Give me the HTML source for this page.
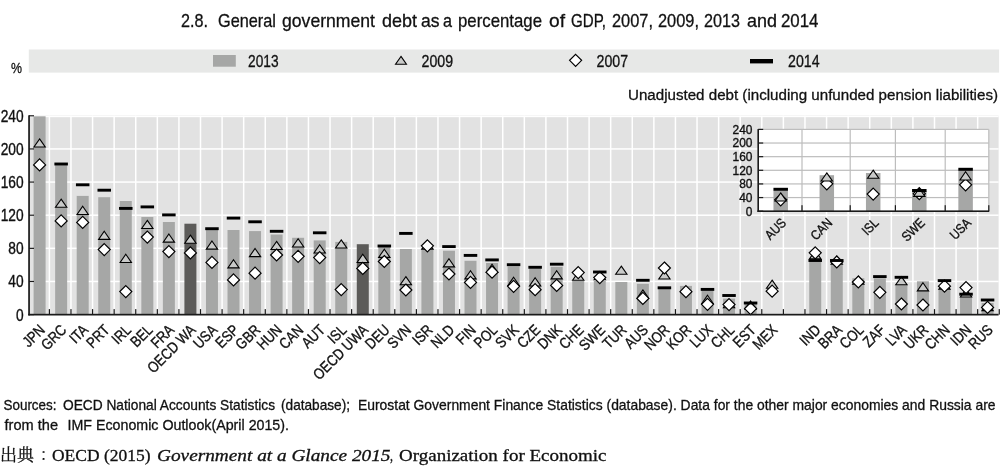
<!DOCTYPE html><html><head><meta charset="utf-8"><title>General government debt</title><style>html,body{margin:0;padding:0;background:#fff;width:1000px;height:467px;overflow:hidden}svg{display:block}text{font-family:'Liberation Sans', Arial, sans-serif;fill:#111;white-space:pre}</style></head><body>
<svg width="1000" height="467" viewBox="0 0 1000 467">
<text x="181.0" y="26.8" font-size="19" style="font-family:'Liberation Sans', sans-serif;" stroke="#111" stroke-width="0.3" textLength="27.0" lengthAdjust="spacingAndGlyphs">2.8.</text>
<text x="218.0" y="26.8" font-size="19" style="font-family:'Liberation Sans', sans-serif;" stroke="#111" stroke-width="0.3" textLength="58.0" lengthAdjust="spacingAndGlyphs">General</text>
<text x="282.0" y="26.8" font-size="19" style="font-family:'Liberation Sans', sans-serif;" stroke="#111" stroke-width="0.3" textLength="93.0" lengthAdjust="spacingAndGlyphs">government</text>
<text x="382.0" y="26.8" font-size="19" style="font-family:'Liberation Sans', sans-serif;" stroke="#111" stroke-width="0.3" textLength="35.0" lengthAdjust="spacingAndGlyphs">debt</text>
<text x="421.0" y="26.8" font-size="19" style="font-family:'Liberation Sans', sans-serif;" stroke="#111" stroke-width="0.3" textLength="18.5" lengthAdjust="spacingAndGlyphs">as</text>
<text x="443.0" y="26.8" font-size="19" style="font-family:'Liberation Sans', sans-serif;" stroke="#111" stroke-width="0.3" textLength="9.0" lengthAdjust="spacingAndGlyphs">a</text>
<text x="458.0" y="26.8" font-size="19" style="font-family:'Liberation Sans', sans-serif;" stroke="#111" stroke-width="0.3" textLength="84.0" lengthAdjust="spacingAndGlyphs">percentage</text>
<text x="549.0" y="26.8" font-size="19" style="font-family:'Liberation Sans', sans-serif;" stroke="#111" stroke-width="0.3" textLength="16.0" lengthAdjust="spacingAndGlyphs">of</text>
<text x="571.0" y="26.8" font-size="19" style="font-family:'Liberation Sans', sans-serif;" stroke="#111" stroke-width="0.3" textLength="35.0" lengthAdjust="spacingAndGlyphs">GDP,</text>
<text x="612.0" y="26.8" font-size="19" style="font-family:'Liberation Sans', sans-serif;" stroke="#111" stroke-width="0.3" textLength="41.0" lengthAdjust="spacingAndGlyphs">2007,</text>
<text x="658.0" y="26.8" font-size="19" style="font-family:'Liberation Sans', sans-serif;" stroke="#111" stroke-width="0.3" textLength="41.0" lengthAdjust="spacingAndGlyphs">2009,</text>
<text x="704.0" y="26.8" font-size="19" style="font-family:'Liberation Sans', sans-serif;" stroke="#111" stroke-width="0.3" textLength="36.0" lengthAdjust="spacingAndGlyphs">2013</text>
<text x="747.0" y="26.8" font-size="19" style="font-family:'Liberation Sans', sans-serif;" stroke="#111" stroke-width="0.3" textLength="30.0" lengthAdjust="spacingAndGlyphs">and</text>
<text x="781.0" y="26.8" font-size="19" style="font-family:'Liberation Sans', sans-serif;" stroke="#111" stroke-width="0.3" textLength="37.5" lengthAdjust="spacingAndGlyphs">2014</text>
<rect x="28.8" y="49.5" width="970.3" height="23.1" fill="#e7e8e7"/>
<text x="11.0" y="73.4" font-size="15.5" style="font-family:'Liberation Sans', sans-serif;" stroke="#111" stroke-width="0.3" textLength="11.0" lengthAdjust="spacingAndGlyphs">%</text>
<rect x="213" y="55" width="22.8" height="11.7" fill="#a6a7a6"/>
<text x="248.0" y="66.5" font-size="16" style="font-family:'Liberation Sans', sans-serif;" stroke="#111" stroke-width="0.3" textLength="30.5" lengthAdjust="spacingAndGlyphs">2013</text>
<path d="M401.00,56.40 L406.45,64.25 L395.55,64.25 Z" fill="#c9cac9" stroke="#000" stroke-width="1.1" stroke-linejoin="miter"/>
<text x="421.5" y="66.5" font-size="16" style="font-family:'Liberation Sans', sans-serif;" stroke="#111" stroke-width="0.3" textLength="31.5" lengthAdjust="spacingAndGlyphs">2009</text>
<path d="M575.60,54.30 L581.60,60.30 L575.60,66.30 L569.60,60.30 Z" fill="#fff" stroke="#000" stroke-width="1.2"/>
<text x="596.5" y="66.5" font-size="16" style="font-family:'Liberation Sans', sans-serif;" stroke="#111" stroke-width="0.3" textLength="31.5" lengthAdjust="spacingAndGlyphs">2007</text>
<rect x="750" y="59" width="23" height="4.4" fill="#000"/>
<text x="788.0" y="66.5" font-size="16" style="font-family:'Liberation Sans', sans-serif;" stroke="#111" stroke-width="0.3" textLength="31.5" lengthAdjust="spacingAndGlyphs">2014</text>
<text x="628.0" y="99.6" font-size="15.2" style="font-family:'Liberation Sans', sans-serif;" stroke="#111" stroke-width="0.3" textLength="370.0" lengthAdjust="spacingAndGlyphs">Unadjusted debt (including unfunded pension liabilities)</text>
<rect x="29.0" y="115.7" width="969.60" height="198.90" fill="#e2e2e2"/>
<rect x="29.0" y="280.72" width="969.60" height="1.5" fill="#fff"/>
<rect x="29.0" y="247.59" width="969.60" height="1.5" fill="#fff"/>
<rect x="29.0" y="214.45" width="969.60" height="1.5" fill="#fff"/>
<rect x="29.0" y="181.32" width="969.60" height="1.5" fill="#fff"/>
<rect x="29.0" y="148.19" width="969.60" height="1.5" fill="#fff"/>
<rect x="29.0" y="116.0" width="969.60" height="1.2" fill="#fff"/>
<rect x="48.64" y="115.7" width="1.5" height="198.90" fill="#fff"/>
<rect x="70.23" y="115.7" width="1.5" height="198.90" fill="#fff"/>
<rect x="91.81" y="115.7" width="1.5" height="198.90" fill="#fff"/>
<rect x="113.40" y="115.7" width="1.5" height="198.90" fill="#fff"/>
<rect x="134.99" y="115.7" width="1.5" height="198.90" fill="#fff"/>
<rect x="156.58" y="115.7" width="1.5" height="198.90" fill="#fff"/>
<rect x="178.17" y="115.7" width="1.5" height="198.90" fill="#fff"/>
<rect x="199.75" y="115.7" width="1.5" height="198.90" fill="#fff"/>
<rect x="221.34" y="115.7" width="1.5" height="198.90" fill="#fff"/>
<rect x="242.93" y="115.7" width="1.5" height="198.90" fill="#fff"/>
<rect x="264.52" y="115.7" width="1.5" height="198.90" fill="#fff"/>
<rect x="286.11" y="115.7" width="1.5" height="198.90" fill="#fff"/>
<rect x="307.69" y="115.7" width="1.5" height="198.90" fill="#fff"/>
<rect x="329.28" y="115.7" width="1.5" height="198.90" fill="#fff"/>
<rect x="350.87" y="115.7" width="1.5" height="198.90" fill="#fff"/>
<rect x="372.46" y="115.7" width="1.5" height="198.90" fill="#fff"/>
<rect x="394.05" y="115.7" width="1.5" height="198.90" fill="#fff"/>
<rect x="415.63" y="115.7" width="1.5" height="198.90" fill="#fff"/>
<rect x="437.22" y="115.7" width="1.5" height="198.90" fill="#fff"/>
<rect x="458.81" y="115.7" width="1.5" height="198.90" fill="#fff"/>
<rect x="480.40" y="115.7" width="1.5" height="198.90" fill="#fff"/>
<rect x="501.99" y="115.7" width="1.5" height="198.90" fill="#fff"/>
<rect x="523.57" y="115.7" width="1.5" height="198.90" fill="#fff"/>
<rect x="545.16" y="115.7" width="1.5" height="198.90" fill="#fff"/>
<rect x="566.75" y="115.7" width="1.5" height="198.90" fill="#fff"/>
<rect x="588.34" y="115.7" width="1.5" height="198.90" fill="#fff"/>
<rect x="609.93" y="115.7" width="1.5" height="198.90" fill="#fff"/>
<rect x="631.51" y="115.7" width="1.5" height="198.90" fill="#fff"/>
<rect x="653.10" y="115.7" width="1.5" height="198.90" fill="#fff"/>
<rect x="674.69" y="115.7" width="1.5" height="198.90" fill="#fff"/>
<rect x="696.28" y="115.7" width="1.5" height="198.90" fill="#fff"/>
<rect x="717.87" y="115.7" width="1.5" height="198.90" fill="#fff"/>
<rect x="739.45" y="115.7" width="1.5" height="198.90" fill="#fff"/>
<rect x="761.04" y="115.7" width="1.5" height="198.90" fill="#fff"/>
<rect x="782.63" y="115.7" width="1.5" height="198.90" fill="#fff"/>
<rect x="804.22" y="115.7" width="1.5" height="198.90" fill="#fff"/>
<rect x="825.81" y="115.7" width="1.5" height="198.90" fill="#fff"/>
<rect x="847.39" y="115.7" width="1.5" height="198.90" fill="#fff"/>
<rect x="868.98" y="115.7" width="1.5" height="198.90" fill="#fff"/>
<rect x="890.57" y="115.7" width="1.5" height="198.90" fill="#fff"/>
<rect x="912.16" y="115.7" width="1.5" height="198.90" fill="#fff"/>
<rect x="933.75" y="115.7" width="1.5" height="198.90" fill="#fff"/>
<rect x="955.33" y="115.7" width="1.5" height="198.90" fill="#fff"/>
<rect x="976.92" y="115.7" width="1.5" height="198.90" fill="#fff"/>
<rect x="33.60" y="116.30" width="12.0" height="198.30" fill="#a6a7a6"/>
<rect x="55.15" y="165.10" width="12.0" height="149.50" fill="#a6a7a6"/>
<rect x="76.69" y="195.90" width="12.0" height="118.70" fill="#a6a7a6"/>
<rect x="98.24" y="197.20" width="12.0" height="117.40" fill="#a6a7a6"/>
<rect x="119.78" y="201.00" width="12.0" height="113.60" fill="#a6a7a6"/>
<rect x="141.33" y="217.00" width="12.0" height="97.60" fill="#a6a7a6"/>
<rect x="162.87" y="222.00" width="12.0" height="92.60" fill="#a6a7a6"/>
<rect x="184.41" y="223.70" width="12.0" height="90.90" fill="#5c5b59"/>
<rect x="205.96" y="229.60" width="12.0" height="85.00" fill="#a6a7a6"/>
<rect x="227.51" y="230.00" width="12.0" height="84.60" fill="#a6a7a6"/>
<rect x="249.05" y="231.10" width="12.0" height="83.50" fill="#a6a7a6"/>
<rect x="270.60" y="234.50" width="12.0" height="80.10" fill="#a6a7a6"/>
<rect x="292.14" y="237.80" width="12.0" height="76.80" fill="#a6a7a6"/>
<rect x="313.69" y="240.40" width="12.0" height="74.20" fill="#a6a7a6"/>
<rect x="335.23" y="241.90" width="12.0" height="72.70" fill="#a6a7a6"/>
<rect x="356.78" y="244.20" width="12.0" height="70.40" fill="#5c5b59"/>
<rect x="378.32" y="246.80" width="12.0" height="67.80" fill="#a6a7a6"/>
<rect x="399.87" y="249.00" width="12.0" height="65.60" fill="#a6a7a6"/>
<rect x="421.41" y="247.90" width="12.0" height="66.70" fill="#a6a7a6"/>
<rect x="442.96" y="250.70" width="12.0" height="63.90" fill="#a6a7a6"/>
<rect x="464.50" y="260.80" width="12.0" height="53.80" fill="#a6a7a6"/>
<rect x="486.05" y="263.00" width="12.0" height="51.60" fill="#a6a7a6"/>
<rect x="507.59" y="266.40" width="12.0" height="48.20" fill="#a6a7a6"/>
<rect x="529.13" y="268.60" width="12.0" height="46.00" fill="#a6a7a6"/>
<rect x="550.68" y="266.80" width="12.0" height="47.80" fill="#a6a7a6"/>
<rect x="572.23" y="281.00" width="12.0" height="33.60" fill="#a6a7a6"/>
<rect x="593.77" y="281.00" width="12.0" height="33.60" fill="#a6a7a6"/>
<rect x="615.32" y="282.00" width="12.0" height="32.60" fill="#a6a7a6"/>
<rect x="636.86" y="283.80" width="12.0" height="30.80" fill="#a6a7a6"/>
<rect x="658.41" y="288.60" width="12.0" height="26.00" fill="#a6a7a6"/>
<rect x="679.95" y="285.90" width="12.0" height="28.70" fill="#a6a7a6"/>
<rect x="701.50" y="290.60" width="12.0" height="24.00" fill="#a6a7a6"/>
<rect x="723.04" y="298.60" width="12.0" height="16.00" fill="#a6a7a6"/>
<rect x="744.59" y="303.60" width="12.0" height="11.00" fill="#a6a7a6"/>
<rect x="809.22" y="261.40" width="12.0" height="53.20" fill="#a6a7a6"/>
<rect x="830.77" y="264.70" width="12.0" height="49.90" fill="#a6a7a6"/>
<rect x="852.31" y="278.20" width="12.0" height="36.40" fill="#a6a7a6"/>
<rect x="873.86" y="278.40" width="12.0" height="36.20" fill="#a6a7a6"/>
<rect x="895.40" y="284.00" width="12.0" height="30.60" fill="#a6a7a6"/>
<rect x="916.95" y="281.30" width="12.0" height="33.30" fill="#a6a7a6"/>
<rect x="938.49" y="289.00" width="12.0" height="25.60" fill="#a6a7a6"/>
<rect x="960.04" y="296.50" width="12.0" height="18.10" fill="#a6a7a6"/>
<rect x="981.58" y="303.00" width="12.0" height="11.60" fill="#a6a7a6"/>
<path d="M39.60,138.90 L45.25,147.05 L33.95,147.05 Z" fill="#c9cac9" stroke="#000" stroke-width="1.1" stroke-linejoin="miter"/>
<path d="M61.15,199.10 L66.80,207.25 L55.50,207.25 Z" fill="#c9cac9" stroke="#000" stroke-width="1.1" stroke-linejoin="miter"/>
<path d="M82.69,206.30 L88.34,214.45 L77.04,214.45 Z" fill="#c9cac9" stroke="#000" stroke-width="1.1" stroke-linejoin="miter"/>
<path d="M104.24,231.20 L109.89,239.35 L98.59,239.35 Z" fill="#c9cac9" stroke="#000" stroke-width="1.1" stroke-linejoin="miter"/>
<path d="M125.78,254.30 L131.43,262.45 L120.13,262.45 Z" fill="#c9cac9" stroke="#000" stroke-width="1.1" stroke-linejoin="miter"/>
<path d="M147.33,220.40 L152.98,228.55 L141.68,228.55 Z" fill="#c9cac9" stroke="#000" stroke-width="1.1" stroke-linejoin="miter"/>
<path d="M168.87,234.00 L174.52,242.15 L163.22,242.15 Z" fill="#c9cac9" stroke="#000" stroke-width="1.1" stroke-linejoin="miter"/>
<path d="M190.41,235.10 L196.06,243.25 L184.76,243.25 Z" fill="#c9cac9" stroke="#000" stroke-width="1.1" stroke-linejoin="miter"/>
<path d="M211.96,241.00 L217.61,249.15 L206.31,249.15 Z" fill="#c9cac9" stroke="#000" stroke-width="1.1" stroke-linejoin="miter"/>
<path d="M233.51,259.70 L239.16,267.85 L227.86,267.85 Z" fill="#c9cac9" stroke="#000" stroke-width="1.1" stroke-linejoin="miter"/>
<path d="M255.05,248.50 L260.70,256.65 L249.40,256.65 Z" fill="#c9cac9" stroke="#000" stroke-width="1.1" stroke-linejoin="miter"/>
<path d="M276.60,241.40 L282.25,249.55 L270.95,249.55 Z" fill="#c9cac9" stroke="#000" stroke-width="1.1" stroke-linejoin="miter"/>
<path d="M298.14,238.80 L303.79,246.95 L292.49,246.95 Z" fill="#c9cac9" stroke="#000" stroke-width="1.1" stroke-linejoin="miter"/>
<path d="M319.69,244.80 L325.34,252.95 L314.04,252.95 Z" fill="#c9cac9" stroke="#000" stroke-width="1.1" stroke-linejoin="miter"/>
<path d="M341.23,239.90 L346.88,248.05 L335.58,248.05 Z" fill="#c9cac9" stroke="#000" stroke-width="1.1" stroke-linejoin="miter"/>
<path d="M362.78,254.30 L368.43,262.45 L357.13,262.45 Z" fill="#c9cac9" stroke="#000" stroke-width="1.1" stroke-linejoin="miter"/>
<path d="M384.32,249.20 L389.97,257.35 L378.67,257.35 Z" fill="#c9cac9" stroke="#000" stroke-width="1.1" stroke-linejoin="miter"/>
<path d="M405.87,276.60 L411.52,284.75 L400.22,284.75 Z" fill="#c9cac9" stroke="#000" stroke-width="1.1" stroke-linejoin="miter"/>
<path d="M427.41,241.00 L433.06,249.15 L421.76,249.15 Z" fill="#c9cac9" stroke="#000" stroke-width="1.1" stroke-linejoin="miter"/>
<path d="M448.96,258.70 L454.61,266.85 L443.31,266.85 Z" fill="#c9cac9" stroke="#000" stroke-width="1.1" stroke-linejoin="miter"/>
<path d="M470.50,270.70 L476.15,278.85 L464.85,278.85 Z" fill="#c9cac9" stroke="#000" stroke-width="1.1" stroke-linejoin="miter"/>
<path d="M492.05,264.20 L497.70,272.35 L486.40,272.35 Z" fill="#c9cac9" stroke="#000" stroke-width="1.1" stroke-linejoin="miter"/>
<path d="M513.59,277.20 L519.24,285.35 L507.94,285.35 Z" fill="#c9cac9" stroke="#000" stroke-width="1.1" stroke-linejoin="miter"/>
<path d="M535.13,277.80 L540.78,285.95 L529.49,285.95 Z" fill="#c9cac9" stroke="#000" stroke-width="1.1" stroke-linejoin="miter"/>
<path d="M556.68,270.70 L562.33,278.85 L551.03,278.85 Z" fill="#c9cac9" stroke="#000" stroke-width="1.1" stroke-linejoin="miter"/>
<path d="M578.23,272.10 L583.88,280.25 L572.58,280.25 Z" fill="#c9cac9" stroke="#000" stroke-width="1.1" stroke-linejoin="miter"/>
<path d="M599.77,271.60 L605.42,279.75 L594.12,279.75 Z" fill="#c9cac9" stroke="#000" stroke-width="1.1" stroke-linejoin="miter"/>
<path d="M621.32,266.10 L626.97,274.25 L615.67,274.25 Z" fill="#c9cac9" stroke="#000" stroke-width="1.1" stroke-linejoin="miter"/>
<path d="M642.86,289.90 L648.51,298.05 L637.21,298.05 Z" fill="#c9cac9" stroke="#000" stroke-width="1.1" stroke-linejoin="miter"/>
<path d="M664.41,270.90 L670.06,279.05 L658.76,279.05 Z" fill="#c9cac9" stroke="#000" stroke-width="1.1" stroke-linejoin="miter"/>
<path d="M707.50,295.30 L713.15,303.45 L701.85,303.45 Z" fill="#c9cac9" stroke="#000" stroke-width="1.1" stroke-linejoin="miter"/>
<path d="M729.04,299.60 L734.69,307.75 L723.39,307.75 Z" fill="#c9cac9" stroke="#000" stroke-width="1.1" stroke-linejoin="miter"/>
<path d="M750.59,301.00 L756.24,309.15 L744.94,309.15 Z" fill="#c9cac9" stroke="#000" stroke-width="1.1" stroke-linejoin="miter"/>
<path d="M772.13,280.10 L777.78,288.25 L766.48,288.25 Z" fill="#c9cac9" stroke="#000" stroke-width="1.1" stroke-linejoin="miter"/>
<path d="M815.22,250.60 L820.87,258.75 L809.57,258.75 Z" fill="#c9cac9" stroke="#000" stroke-width="1.1" stroke-linejoin="miter"/>
<path d="M836.77,256.00 L842.42,264.15 L831.12,264.15 Z" fill="#c9cac9" stroke="#000" stroke-width="1.1" stroke-linejoin="miter"/>
<path d="M858.31,276.10 L863.96,284.25 L852.66,284.25 Z" fill="#c9cac9" stroke="#000" stroke-width="1.1" stroke-linejoin="miter"/>
<path d="M901.40,276.60 L907.05,284.75 L895.75,284.75 Z" fill="#c9cac9" stroke="#000" stroke-width="1.1" stroke-linejoin="miter"/>
<path d="M922.95,282.70 L928.60,290.85 L917.30,290.85 Z" fill="#c9cac9" stroke="#000" stroke-width="1.1" stroke-linejoin="miter"/>
<path d="M944.49,281.10 L950.14,289.25 L938.84,289.25 Z" fill="#c9cac9" stroke="#000" stroke-width="1.1" stroke-linejoin="miter"/>
<path d="M966.04,288.90 L971.69,297.05 L960.39,297.05 Z" fill="#c9cac9" stroke="#000" stroke-width="1.1" stroke-linejoin="miter"/>
<path d="M987.58,302.50 L993.23,310.65 L981.93,310.65 Z" fill="#c9cac9" stroke="#000" stroke-width="1.1" stroke-linejoin="miter"/>
<path d="M39.60,158.90 L45.60,164.90 L39.60,170.90 L33.60,164.90 Z" fill="#fff" stroke="#000" stroke-width="1.2"/>
<path d="M61.15,214.90 L67.15,220.90 L61.15,226.90 L55.15,220.90 Z" fill="#fff" stroke="#000" stroke-width="1.2"/>
<path d="M82.69,216.40 L88.69,222.40 L82.69,228.40 L76.69,222.40 Z" fill="#fff" stroke="#000" stroke-width="1.2"/>
<path d="M104.24,243.60 L110.24,249.60 L104.24,255.60 L98.24,249.60 Z" fill="#fff" stroke="#000" stroke-width="1.2"/>
<path d="M125.78,285.60 L131.78,291.60 L125.78,297.60 L119.78,291.60 Z" fill="#fff" stroke="#000" stroke-width="1.2"/>
<path d="M147.33,231.10 L153.33,237.10 L147.33,243.10 L141.33,237.10 Z" fill="#fff" stroke="#000" stroke-width="1.2"/>
<path d="M168.87,245.60 L174.87,251.60 L168.87,257.60 L162.87,251.60 Z" fill="#fff" stroke="#000" stroke-width="1.2"/>
<path d="M190.41,246.90 L196.41,252.90 L190.41,258.90 L184.41,252.90 Z" fill="#fff" stroke="#000" stroke-width="1.2"/>
<path d="M211.96,256.40 L217.96,262.40 L211.96,268.40 L205.96,262.40 Z" fill="#fff" stroke="#000" stroke-width="1.2"/>
<path d="M233.51,273.90 L239.51,279.90 L233.51,285.90 L227.51,279.90 Z" fill="#fff" stroke="#000" stroke-width="1.2"/>
<path d="M255.05,267.20 L261.05,273.20 L255.05,279.20 L249.05,273.20 Z" fill="#fff" stroke="#000" stroke-width="1.2"/>
<path d="M276.60,249.00 L282.60,255.00 L276.60,261.00 L270.60,255.00 Z" fill="#fff" stroke="#000" stroke-width="1.2"/>
<path d="M298.14,250.30 L304.14,256.30 L298.14,262.30 L292.14,256.30 Z" fill="#fff" stroke="#000" stroke-width="1.2"/>
<path d="M319.69,251.60 L325.69,257.60 L319.69,263.60 L313.69,257.60 Z" fill="#fff" stroke="#000" stroke-width="1.2"/>
<path d="M341.23,283.60 L347.23,289.60 L341.23,295.60 L335.23,289.60 Z" fill="#fff" stroke="#000" stroke-width="1.2"/>
<path d="M362.78,262.40 L368.78,268.40 L362.78,274.40 L356.78,268.40 Z" fill="#fff" stroke="#000" stroke-width="1.2"/>
<path d="M384.32,255.50 L390.32,261.50 L384.32,267.50 L378.32,261.50 Z" fill="#fff" stroke="#000" stroke-width="1.2"/>
<path d="M405.87,284.00 L411.87,290.00 L405.87,296.00 L399.87,290.00 Z" fill="#fff" stroke="#000" stroke-width="1.2"/>
<path d="M427.41,239.80 L433.41,245.80 L427.41,251.80 L421.41,245.80 Z" fill="#fff" stroke="#000" stroke-width="1.2"/>
<path d="M448.96,268.00 L454.96,274.00 L448.96,280.00 L442.96,274.00 Z" fill="#fff" stroke="#000" stroke-width="1.2"/>
<path d="M470.50,276.40 L476.50,282.40 L470.50,288.40 L464.50,282.40 Z" fill="#fff" stroke="#000" stroke-width="1.2"/>
<path d="M492.05,266.20 L498.05,272.20 L492.05,278.20 L486.05,272.20 Z" fill="#fff" stroke="#000" stroke-width="1.2"/>
<path d="M513.59,280.30 L519.59,286.30 L513.59,292.30 L507.59,286.30 Z" fill="#fff" stroke="#000" stroke-width="1.2"/>
<path d="M535.13,283.70 L541.13,289.70 L535.13,295.70 L529.13,289.70 Z" fill="#fff" stroke="#000" stroke-width="1.2"/>
<path d="M556.68,279.40 L562.68,285.40 L556.68,291.40 L550.68,285.40 Z" fill="#fff" stroke="#000" stroke-width="1.2"/>
<path d="M578.23,266.60 L584.23,272.60 L578.23,278.60 L572.23,272.60 Z" fill="#fff" stroke="#000" stroke-width="1.2"/>
<path d="M599.77,271.60 L605.77,277.60 L599.77,283.60 L593.77,277.60 Z" fill="#fff" stroke="#000" stroke-width="1.2"/>
<path d="M642.86,292.40 L648.86,298.40 L642.86,304.40 L636.86,298.40 Z" fill="#fff" stroke="#000" stroke-width="1.2"/>
<path d="M664.41,262.00 L670.41,268.00 L664.41,274.00 L658.41,268.00 Z" fill="#fff" stroke="#000" stroke-width="1.2"/>
<path d="M685.95,285.70 L691.95,291.70 L685.95,297.70 L679.95,291.70 Z" fill="#fff" stroke="#000" stroke-width="1.2"/>
<path d="M707.50,298.30 L713.50,304.30 L707.50,310.30 L701.50,304.30 Z" fill="#fff" stroke="#000" stroke-width="1.2"/>
<path d="M729.04,298.60 L735.04,304.60 L729.04,310.60 L723.04,304.60 Z" fill="#fff" stroke="#000" stroke-width="1.2"/>
<path d="M750.59,302.60 L756.59,308.60 L750.59,314.60 L744.59,308.60 Z" fill="#fff" stroke="#000" stroke-width="1.2"/>
<path d="M772.13,285.20 L778.13,291.20 L772.13,297.20 L766.13,291.20 Z" fill="#fff" stroke="#000" stroke-width="1.2"/>
<path d="M815.22,246.80 L821.22,252.80 L815.22,258.80 L809.22,252.80 Z" fill="#fff" stroke="#000" stroke-width="1.2"/>
<path d="M836.77,256.00 L842.77,262.00 L836.77,268.00 L830.77,262.00 Z" fill="#fff" stroke="#000" stroke-width="1.2"/>
<path d="M858.31,276.00 L864.31,282.00 L858.31,288.00 L852.31,282.00 Z" fill="#fff" stroke="#000" stroke-width="1.2"/>
<path d="M879.86,286.30 L885.86,292.30 L879.86,298.30 L873.86,292.30 Z" fill="#fff" stroke="#000" stroke-width="1.2"/>
<path d="M901.40,298.00 L907.40,304.00 L901.40,310.00 L895.40,304.00 Z" fill="#fff" stroke="#000" stroke-width="1.2"/>
<path d="M922.95,299.00 L928.95,305.00 L922.95,311.00 L916.95,305.00 Z" fill="#fff" stroke="#000" stroke-width="1.2"/>
<path d="M944.49,280.20 L950.49,286.20 L944.49,292.20 L938.49,286.20 Z" fill="#fff" stroke="#000" stroke-width="1.2"/>
<path d="M966.04,281.60 L972.04,287.60 L966.04,293.60 L960.04,287.60 Z" fill="#fff" stroke="#000" stroke-width="1.2"/>
<path d="M987.58,301.40 L993.58,307.40 L987.58,313.40 L981.58,307.40 Z" fill="#fff" stroke="#000" stroke-width="1.2"/>
<rect x="54.40" y="162.55" width="13.50" height="2.90" fill="#000"/>
<rect x="75.94" y="183.35" width="13.50" height="2.90" fill="#000"/>
<rect x="97.49" y="188.75" width="13.50" height="2.90" fill="#000"/>
<rect x="119.03" y="206.95" width="13.50" height="2.90" fill="#000"/>
<rect x="140.58" y="205.45" width="13.50" height="2.90" fill="#000"/>
<rect x="162.12" y="213.45" width="13.50" height="2.90" fill="#000"/>
<rect x="205.21" y="227.25" width="13.50" height="2.90" fill="#000"/>
<rect x="226.76" y="216.65" width="13.50" height="2.90" fill="#000"/>
<rect x="248.30" y="220.35" width="13.50" height="2.90" fill="#000"/>
<rect x="269.85" y="229.85" width="13.50" height="2.90" fill="#000"/>
<rect x="312.94" y="231.35" width="13.50" height="2.90" fill="#000"/>
<rect x="377.57" y="244.55" width="13.50" height="2.90" fill="#000"/>
<rect x="399.12" y="231.95" width="13.50" height="2.90" fill="#000"/>
<rect x="442.21" y="245.15" width="13.50" height="2.90" fill="#000"/>
<rect x="463.75" y="253.95" width="13.50" height="2.90" fill="#000"/>
<rect x="485.30" y="258.45" width="13.50" height="2.90" fill="#000"/>
<rect x="506.84" y="263.25" width="13.50" height="2.90" fill="#000"/>
<rect x="528.38" y="265.85" width="13.50" height="2.90" fill="#000"/>
<rect x="549.93" y="262.75" width="13.50" height="2.90" fill="#000"/>
<rect x="593.02" y="270.55" width="13.50" height="2.90" fill="#000"/>
<rect x="636.11" y="278.85" width="13.50" height="2.90" fill="#000"/>
<rect x="657.66" y="286.35" width="13.50" height="2.90" fill="#000"/>
<rect x="700.75" y="287.95" width="13.50" height="2.90" fill="#000"/>
<rect x="722.29" y="294.05" width="13.50" height="2.90" fill="#000"/>
<rect x="743.84" y="301.55" width="13.50" height="2.90" fill="#000"/>
<rect x="808.47" y="259.05" width="13.50" height="2.90" fill="#000"/>
<rect x="830.02" y="259.05" width="13.50" height="2.90" fill="#000"/>
<rect x="873.11" y="275.15" width="13.50" height="2.90" fill="#000"/>
<rect x="894.65" y="275.85" width="13.50" height="2.90" fill="#000"/>
<rect x="937.74" y="279.15" width="13.50" height="2.90" fill="#000"/>
<rect x="959.29" y="292.75" width="13.50" height="2.90" fill="#000"/>
<rect x="980.83" y="298.55" width="13.50" height="2.90" fill="#000"/>
<rect x="28.2" y="115.30" width="1.7" height="200.10" fill="#1a1a1a"/>
<rect x="28.2" y="313.80" width="970.40" height="1.7" fill="#1a1a1a"/>
<rect x="29" y="314.00" width="5" height="1.2" fill="#1a1a1a"/>
<rect x="29" y="280.87" width="5" height="1.2" fill="#1a1a1a"/>
<rect x="29" y="247.74" width="5" height="1.2" fill="#1a1a1a"/>
<rect x="29" y="214.60" width="5" height="1.2" fill="#1a1a1a"/>
<rect x="29" y="181.47" width="5" height="1.2" fill="#1a1a1a"/>
<rect x="29" y="148.34" width="5" height="1.2" fill="#1a1a1a"/>
<rect x="29" y="115.21" width="5" height="1.2" fill="#1a1a1a"/>
<rect x="48.79" y="309.10" width="1.2" height="5.5" fill="#1a1a1a"/>
<rect x="70.38" y="309.10" width="1.2" height="5.5" fill="#1a1a1a"/>
<rect x="91.96" y="309.10" width="1.2" height="5.5" fill="#1a1a1a"/>
<rect x="113.55" y="309.10" width="1.2" height="5.5" fill="#1a1a1a"/>
<rect x="135.14" y="309.10" width="1.2" height="5.5" fill="#1a1a1a"/>
<rect x="156.73" y="309.10" width="1.2" height="5.5" fill="#1a1a1a"/>
<rect x="178.32" y="309.10" width="1.2" height="5.5" fill="#1a1a1a"/>
<rect x="199.90" y="309.10" width="1.2" height="5.5" fill="#1a1a1a"/>
<rect x="221.49" y="309.10" width="1.2" height="5.5" fill="#1a1a1a"/>
<rect x="243.08" y="309.10" width="1.2" height="5.5" fill="#1a1a1a"/>
<rect x="264.67" y="309.10" width="1.2" height="5.5" fill="#1a1a1a"/>
<rect x="286.26" y="309.10" width="1.2" height="5.5" fill="#1a1a1a"/>
<rect x="307.84" y="309.10" width="1.2" height="5.5" fill="#1a1a1a"/>
<rect x="329.43" y="309.10" width="1.2" height="5.5" fill="#1a1a1a"/>
<rect x="351.02" y="309.10" width="1.2" height="5.5" fill="#1a1a1a"/>
<rect x="372.61" y="309.10" width="1.2" height="5.5" fill="#1a1a1a"/>
<rect x="394.20" y="309.10" width="1.2" height="5.5" fill="#1a1a1a"/>
<rect x="415.78" y="309.10" width="1.2" height="5.5" fill="#1a1a1a"/>
<rect x="437.37" y="309.10" width="1.2" height="5.5" fill="#1a1a1a"/>
<rect x="458.96" y="309.10" width="1.2" height="5.5" fill="#1a1a1a"/>
<rect x="480.55" y="309.10" width="1.2" height="5.5" fill="#1a1a1a"/>
<rect x="502.14" y="309.10" width="1.2" height="5.5" fill="#1a1a1a"/>
<rect x="523.72" y="309.10" width="1.2" height="5.5" fill="#1a1a1a"/>
<rect x="545.31" y="309.10" width="1.2" height="5.5" fill="#1a1a1a"/>
<rect x="566.90" y="309.10" width="1.2" height="5.5" fill="#1a1a1a"/>
<rect x="588.49" y="309.10" width="1.2" height="5.5" fill="#1a1a1a"/>
<rect x="610.08" y="309.10" width="1.2" height="5.5" fill="#1a1a1a"/>
<rect x="631.66" y="309.10" width="1.2" height="5.5" fill="#1a1a1a"/>
<rect x="653.25" y="309.10" width="1.2" height="5.5" fill="#1a1a1a"/>
<rect x="674.84" y="309.10" width="1.2" height="5.5" fill="#1a1a1a"/>
<rect x="696.43" y="309.10" width="1.2" height="5.5" fill="#1a1a1a"/>
<rect x="718.02" y="309.10" width="1.2" height="5.5" fill="#1a1a1a"/>
<rect x="739.60" y="309.10" width="1.2" height="5.5" fill="#1a1a1a"/>
<rect x="761.19" y="309.10" width="1.2" height="5.5" fill="#1a1a1a"/>
<rect x="782.78" y="309.10" width="1.2" height="5.5" fill="#1a1a1a"/>
<rect x="804.37" y="309.10" width="1.2" height="5.5" fill="#1a1a1a"/>
<rect x="825.96" y="309.10" width="1.2" height="5.5" fill="#1a1a1a"/>
<rect x="847.54" y="309.10" width="1.2" height="5.5" fill="#1a1a1a"/>
<rect x="869.13" y="309.10" width="1.2" height="5.5" fill="#1a1a1a"/>
<rect x="890.72" y="309.10" width="1.2" height="5.5" fill="#1a1a1a"/>
<rect x="912.31" y="309.10" width="1.2" height="5.5" fill="#1a1a1a"/>
<rect x="933.90" y="309.10" width="1.2" height="5.5" fill="#1a1a1a"/>
<rect x="955.48" y="309.10" width="1.2" height="5.5" fill="#1a1a1a"/>
<rect x="977.07" y="309.10" width="1.2" height="5.5" fill="#1a1a1a"/>
<rect x="998.66" y="309.10" width="1.2" height="5.5" fill="#1a1a1a"/>
<text transform="translate(23.60,320.60) scale(0.88,1)" font-size="15.6" text-anchor="end" stroke="#111" stroke-width="0.35" >0</text>
<text transform="translate(23.60,287.47) scale(0.88,1)" font-size="15.6" text-anchor="end" stroke="#111" stroke-width="0.35" >40</text>
<text transform="translate(23.60,254.34) scale(0.88,1)" font-size="15.6" text-anchor="end" stroke="#111" stroke-width="0.35" >80</text>
<text transform="translate(23.60,221.20) scale(0.88,1)" font-size="15.6" text-anchor="end" stroke="#111" stroke-width="0.35" >120</text>
<text transform="translate(23.60,188.07) scale(0.88,1)" font-size="15.6" text-anchor="end" stroke="#111" stroke-width="0.35" >160</text>
<text transform="translate(23.60,154.94) scale(0.88,1)" font-size="15.6" text-anchor="end" stroke="#111" stroke-width="0.35" >200</text>
<text transform="translate(23.60,121.81) scale(0.88,1)" font-size="15.6" text-anchor="end" stroke="#111" stroke-width="0.35" >240</text>
<text transform="translate(45.90,330.80) rotate(-45) scale(0.85,1)" font-size="15.2" text-anchor="end" stroke="#111" stroke-width="0.35">JPN</text>
<text transform="translate(67.45,330.80) rotate(-45) scale(0.85,1)" font-size="15.2" text-anchor="end" stroke="#111" stroke-width="0.35">GRC</text>
<text transform="translate(88.99,330.80) rotate(-45) scale(0.85,1)" font-size="15.2" text-anchor="end" stroke="#111" stroke-width="0.35">ITA</text>
<text transform="translate(110.54,330.80) rotate(-45) scale(0.85,1)" font-size="15.2" text-anchor="end" stroke="#111" stroke-width="0.35">PRT</text>
<text transform="translate(132.08,330.80) rotate(-45) scale(0.85,1)" font-size="15.2" text-anchor="end" stroke="#111" stroke-width="0.35">IRL</text>
<text transform="translate(153.63,330.80) rotate(-45) scale(0.85,1)" font-size="15.2" text-anchor="end" stroke="#111" stroke-width="0.35">BEL</text>
<text transform="translate(175.17,330.80) rotate(-45) scale(0.85,1)" font-size="15.2" text-anchor="end" stroke="#111" stroke-width="0.35">FRA</text>
<text transform="translate(196.72,330.80) rotate(-45) scale(0.85,1)" font-size="15.2" text-anchor="end" stroke="#111" stroke-width="0.35">OECD WA</text>
<text transform="translate(218.26,330.80) rotate(-45) scale(0.85,1)" font-size="15.2" text-anchor="end" stroke="#111" stroke-width="0.35">USA</text>
<text transform="translate(239.81,330.80) rotate(-45) scale(0.85,1)" font-size="15.2" text-anchor="end" stroke="#111" stroke-width="0.35">ESP</text>
<text transform="translate(261.35,330.80) rotate(-45) scale(0.85,1)" font-size="15.2" text-anchor="end" stroke="#111" stroke-width="0.35">GBR</text>
<text transform="translate(282.90,330.80) rotate(-45) scale(0.85,1)" font-size="15.2" text-anchor="end" stroke="#111" stroke-width="0.35">HUN</text>
<text transform="translate(304.44,330.80) rotate(-45) scale(0.85,1)" font-size="15.2" text-anchor="end" stroke="#111" stroke-width="0.35">CAN</text>
<text transform="translate(325.99,330.80) rotate(-45) scale(0.85,1)" font-size="15.2" text-anchor="end" stroke="#111" stroke-width="0.35">AUT</text>
<text transform="translate(347.53,330.80) rotate(-45) scale(0.85,1)" font-size="15.2" text-anchor="end" stroke="#111" stroke-width="0.35">ISL</text>
<text transform="translate(369.08,330.80) rotate(-45) scale(0.85,1)" font-size="15.2" text-anchor="end" stroke="#111" stroke-width="0.35">OECD UWA</text>
<text transform="translate(390.62,330.80) rotate(-45) scale(0.85,1)" font-size="15.2" text-anchor="end" stroke="#111" stroke-width="0.35">DEU</text>
<text transform="translate(412.17,330.80) rotate(-45) scale(0.85,1)" font-size="15.2" text-anchor="end" stroke="#111" stroke-width="0.35">SVN</text>
<text transform="translate(433.71,330.80) rotate(-45) scale(0.85,1)" font-size="15.2" text-anchor="end" stroke="#111" stroke-width="0.35">ISR</text>
<text transform="translate(455.26,330.80) rotate(-45) scale(0.85,1)" font-size="15.2" text-anchor="end" stroke="#111" stroke-width="0.35">NLD</text>
<text transform="translate(476.80,330.80) rotate(-45) scale(0.85,1)" font-size="15.2" text-anchor="end" stroke="#111" stroke-width="0.35">FIN</text>
<text transform="translate(498.35,330.80) rotate(-45) scale(0.85,1)" font-size="15.2" text-anchor="end" stroke="#111" stroke-width="0.35">POL</text>
<text transform="translate(519.89,330.80) rotate(-45) scale(0.85,1)" font-size="15.2" text-anchor="end" stroke="#111" stroke-width="0.35">SVK</text>
<text transform="translate(541.43,330.80) rotate(-45) scale(0.85,1)" font-size="15.2" text-anchor="end" stroke="#111" stroke-width="0.35">CZE</text>
<text transform="translate(562.98,330.80) rotate(-45) scale(0.85,1)" font-size="15.2" text-anchor="end" stroke="#111" stroke-width="0.35">DNK</text>
<text transform="translate(584.52,330.80) rotate(-45) scale(0.85,1)" font-size="15.2" text-anchor="end" stroke="#111" stroke-width="0.35">CHE</text>
<text transform="translate(606.07,330.80) rotate(-45) scale(0.85,1)" font-size="15.2" text-anchor="end" stroke="#111" stroke-width="0.35">SWE</text>
<text transform="translate(627.62,330.80) rotate(-45) scale(0.85,1)" font-size="15.2" text-anchor="end" stroke="#111" stroke-width="0.35">TUR</text>
<text transform="translate(649.16,330.80) rotate(-45) scale(0.85,1)" font-size="15.2" text-anchor="end" stroke="#111" stroke-width="0.35">AUS</text>
<text transform="translate(670.71,330.80) rotate(-45) scale(0.85,1)" font-size="15.2" text-anchor="end" stroke="#111" stroke-width="0.35">NOR</text>
<text transform="translate(692.25,330.80) rotate(-45) scale(0.85,1)" font-size="15.2" text-anchor="end" stroke="#111" stroke-width="0.35">KOR</text>
<text transform="translate(713.80,330.80) rotate(-45) scale(0.85,1)" font-size="15.2" text-anchor="end" stroke="#111" stroke-width="0.35">LUX</text>
<text transform="translate(735.34,330.80) rotate(-45) scale(0.85,1)" font-size="15.2" text-anchor="end" stroke="#111" stroke-width="0.35">CHL</text>
<text transform="translate(756.88,330.80) rotate(-45) scale(0.85,1)" font-size="15.2" text-anchor="end" stroke="#111" stroke-width="0.35">EST</text>
<text transform="translate(778.43,330.80) rotate(-45) scale(0.85,1)" font-size="15.2" text-anchor="end" stroke="#111" stroke-width="0.35">MEX</text>
<text transform="translate(821.52,330.80) rotate(-45) scale(0.85,1)" font-size="15.2" text-anchor="end" stroke="#111" stroke-width="0.35">IND</text>
<text transform="translate(843.07,330.80) rotate(-45) scale(0.85,1)" font-size="15.2" text-anchor="end" stroke="#111" stroke-width="0.35">BRA</text>
<text transform="translate(864.61,330.80) rotate(-45) scale(0.85,1)" font-size="15.2" text-anchor="end" stroke="#111" stroke-width="0.35">COL</text>
<text transform="translate(886.16,330.80) rotate(-45) scale(0.85,1)" font-size="15.2" text-anchor="end" stroke="#111" stroke-width="0.35">ZAF</text>
<text transform="translate(907.70,330.80) rotate(-45) scale(0.85,1)" font-size="15.2" text-anchor="end" stroke="#111" stroke-width="0.35">LVA</text>
<text transform="translate(929.25,330.80) rotate(-45) scale(0.85,1)" font-size="15.2" text-anchor="end" stroke="#111" stroke-width="0.35">UKR</text>
<text transform="translate(950.79,330.80) rotate(-45) scale(0.85,1)" font-size="15.2" text-anchor="end" stroke="#111" stroke-width="0.35">CHN</text>
<text transform="translate(972.34,330.80) rotate(-45) scale(0.85,1)" font-size="15.2" text-anchor="end" stroke="#111" stroke-width="0.35">IDN</text>
<text transform="translate(993.88,330.80) rotate(-45) scale(0.85,1)" font-size="15.2" text-anchor="end" stroke="#111" stroke-width="0.35">RUS</text>
<rect x="758.2" y="129.40" width="230.60" height="81.80" fill="#fff"/>
<rect x="758.2" y="196.97" width="230.60" height="1.2" fill="#bdbdbd"/>
<rect x="758.2" y="183.33" width="230.60" height="1.2" fill="#bdbdbd"/>
<rect x="758.2" y="169.70" width="230.60" height="1.2" fill="#bdbdbd"/>
<rect x="758.2" y="156.07" width="230.60" height="1.2" fill="#bdbdbd"/>
<rect x="758.2" y="142.43" width="230.60" height="1.2" fill="#bdbdbd"/>
<rect x="758.2" y="128.80" width="230.60" height="1.2" fill="#bdbdbd"/>
<rect x="801.40" y="129.40" width="1.2" height="81.80" fill="#bdbdbd"/>
<rect x="849.60" y="129.40" width="1.2" height="81.80" fill="#bdbdbd"/>
<rect x="894.80" y="129.40" width="1.2" height="81.80" fill="#bdbdbd"/>
<rect x="944.60" y="129.40" width="1.2" height="81.80" fill="#bdbdbd"/>
<rect x="988.20" y="129.40" width="1.2" height="81.80" fill="#bdbdbd"/>
<rect x="773.45" y="190.70" width="14.5" height="20.50" fill="#a6a7a6"/>
<rect x="819.55" y="175.20" width="14.5" height="36.00" fill="#a6a7a6"/>
<rect x="865.95" y="173.00" width="14.5" height="38.20" fill="#a6a7a6"/>
<rect x="912.05" y="191.00" width="14.5" height="20.20" fill="#a6a7a6"/>
<rect x="958.35" y="169.50" width="14.5" height="41.70" fill="#a6a7a6"/>
<path d="M780.70,193.80 L786.70,199.80 L780.70,205.80 L774.70,199.80 Z" fill="#fff" stroke="#000" stroke-width="1.2"/>
<path d="M826.80,177.80 L832.80,183.80 L826.80,189.80 L820.80,183.80 Z" fill="#fff" stroke="#000" stroke-width="1.2"/>
<path d="M873.20,188.10 L879.20,194.10 L873.20,200.10 L867.20,194.10 Z" fill="#fff" stroke="#000" stroke-width="1.2"/>
<path d="M919.30,187.70 L925.30,193.70 L919.30,199.70 L913.30,193.70 Z" fill="#fff" stroke="#000" stroke-width="1.2"/>
<path d="M965.60,178.80 L971.60,184.80 L965.60,190.80 L959.60,184.80 Z" fill="#fff" stroke="#000" stroke-width="1.2"/>
<path d="M780.70,192.90 L786.35,201.05 L775.05,201.05 Z" fill="#c9cac9" stroke="#000" stroke-width="1.1" stroke-linejoin="miter"/>
<path d="M826.80,172.90 L832.45,181.05 L821.15,181.05 Z" fill="#c9cac9" stroke="#000" stroke-width="1.1" stroke-linejoin="miter"/>
<path d="M873.20,170.10 L878.85,178.25 L867.55,178.25 Z" fill="#c9cac9" stroke="#000" stroke-width="1.1" stroke-linejoin="miter"/>
<path d="M919.30,188.20 L924.95,196.35 L913.65,196.35 Z" fill="#c9cac9" stroke="#000" stroke-width="1.1" stroke-linejoin="miter"/>
<path d="M965.60,171.80 L971.25,179.95 L959.95,179.95 Z" fill="#c9cac9" stroke="#000" stroke-width="1.1" stroke-linejoin="miter"/>
<rect x="773.45" y="187.80" width="14.50" height="3.00" fill="#000"/>
<rect x="912.05" y="189.00" width="14.50" height="3.00" fill="#000"/>
<rect x="958.35" y="167.80" width="14.50" height="3.00" fill="#000"/>
<rect x="757.40" y="129.10" width="1.6" height="82.80" fill="#1a1a1a"/>
<rect x="757.40" y="210.40" width="231.80" height="1.6" fill="#1a1a1a"/>
<rect x="758.2" y="210.60" width="5" height="1.2" fill="#1a1a1a"/>
<rect x="758.2" y="196.97" width="5" height="1.2" fill="#1a1a1a"/>
<rect x="758.2" y="183.33" width="5" height="1.2" fill="#1a1a1a"/>
<rect x="758.2" y="169.70" width="5" height="1.2" fill="#1a1a1a"/>
<rect x="758.2" y="156.07" width="5" height="1.2" fill="#1a1a1a"/>
<rect x="758.2" y="142.43" width="5" height="1.2" fill="#1a1a1a"/>
<rect x="758.2" y="128.80" width="5" height="1.2" fill="#1a1a1a"/>
<rect x="801.40" y="205.20" width="1.2" height="6" fill="#1a1a1a"/>
<rect x="849.60" y="205.20" width="1.2" height="6" fill="#1a1a1a"/>
<rect x="894.80" y="205.20" width="1.2" height="6" fill="#1a1a1a"/>
<rect x="944.60" y="205.20" width="1.2" height="6" fill="#1a1a1a"/>
<rect x="988.20" y="205.20" width="1.2" height="6" fill="#1a1a1a"/>
<text transform="translate(752.50,215.60) scale(0.95,1)" font-size="12.6" text-anchor="end" stroke="#111" stroke-width="0.35" >0</text>
<text transform="translate(752.50,201.97) scale(0.95,1)" font-size="12.6" text-anchor="end" stroke="#111" stroke-width="0.35" >40</text>
<text transform="translate(752.50,188.33) scale(0.95,1)" font-size="12.6" text-anchor="end" stroke="#111" stroke-width="0.35" >80</text>
<text transform="translate(752.50,174.70) scale(0.95,1)" font-size="12.6" text-anchor="end" stroke="#111" stroke-width="0.35" >120</text>
<text transform="translate(752.50,161.07) scale(0.95,1)" font-size="12.6" text-anchor="end" stroke="#111" stroke-width="0.35" >160</text>
<text transform="translate(752.50,147.43) scale(0.95,1)" font-size="12.6" text-anchor="end" stroke="#111" stroke-width="0.35" >200</text>
<text transform="translate(752.50,133.80) scale(0.95,1)" font-size="12.6" text-anchor="end" stroke="#111" stroke-width="0.35" >240</text>
<text transform="translate(787.00,223.70) rotate(-45) scale(0.86,1)" font-size="13.4" text-anchor="end" stroke="#111" stroke-width="0.35">AUS</text>
<text transform="translate(833.10,223.70) rotate(-45) scale(0.86,1)" font-size="13.4" text-anchor="end" stroke="#111" stroke-width="0.35">CAN</text>
<text transform="translate(879.50,223.70) rotate(-45) scale(0.86,1)" font-size="13.4" text-anchor="end" stroke="#111" stroke-width="0.35">ISL</text>
<text transform="translate(925.60,223.70) rotate(-45) scale(0.86,1)" font-size="13.4" text-anchor="end" stroke="#111" stroke-width="0.35">SWE</text>
<text transform="translate(971.90,223.70) rotate(-45) scale(0.86,1)" font-size="13.4" text-anchor="end" stroke="#111" stroke-width="0.35">USA</text>
<text x="3.5" y="410.3" font-size="14.6" style="font-family:'Liberation Sans', sans-serif;" stroke="#111" stroke-width="0.3" textLength="53.0" lengthAdjust="spacingAndGlyphs">Sources:</text>
<text x="63.0" y="410.3" font-size="14.6" style="font-family:'Liberation Sans', sans-serif;" stroke="#111" stroke-width="0.3" textLength="212.0" lengthAdjust="spacingAndGlyphs">OECD National Accounts Statistics</text>
<text x="281.0" y="410.3" font-size="14.6" style="font-family:'Liberation Sans', sans-serif;" stroke="#111" stroke-width="0.3" textLength="69.0" lengthAdjust="spacingAndGlyphs">(database);</text>
<text x="358.0" y="410.3" font-size="14.6" style="font-family:'Liberation Sans', sans-serif;" stroke="#111" stroke-width="0.3" textLength="637.5" lengthAdjust="spacingAndGlyphs">Eurostat Government Finance Statistics (database). Data for the other major economies and Russia are</text>
<text x="4.5" y="430.4" font-size="14.6" style="font-family:'Liberation Sans', sans-serif;" stroke="#111" stroke-width="0.3" textLength="53.5" lengthAdjust="spacingAndGlyphs">from the</text>
<text x="67.5" y="430.4" font-size="14.6" style="font-family:'Liberation Sans', sans-serif;" stroke="#111" stroke-width="0.3" textLength="221.5" lengthAdjust="spacingAndGlyphs">IMF Economic Outlook(April 2015).</text>
<text x="0.0" y="461.2" font-size="17.0" style="font-family:'Liberation Serif','Noto Serif CJK SC',serif;" stroke="#111" stroke-width="0.25" textLength="34.0" lengthAdjust="spacingAndGlyphs">出典</text>
<text x="40.0" y="459.6" font-size="15.5" style="font-family:'Liberation Serif','Noto Serif CJK SC',serif;" stroke="#111" stroke-width="0.2" >：</text>
<text x="52.0" y="461.4" font-size="17" style="font-family:'Liberation Serif',serif;" stroke="#111" stroke-width="0.3" textLength="98.5" lengthAdjust="spacingAndGlyphs">OECD (2015)</text>
<text x="157.0" y="461.4" font-size="17" style="font-family:'Liberation Serif',serif;font-style:italic;" stroke="#111" stroke-width="0.3" textLength="233.5" lengthAdjust="spacingAndGlyphs">Government at a Glance 2015</text>
<text x="390.0" y="461.4" font-size="17" style="font-family:'Liberation Serif',serif;" stroke="#111" stroke-width="0.3" textLength="3.0" lengthAdjust="spacingAndGlyphs">,</text>
<text x="399.0" y="461.4" font-size="17" style="font-family:'Liberation Serif',serif;" stroke="#111" stroke-width="0.3" textLength="207.5" lengthAdjust="spacingAndGlyphs">Organization for Economic</text>
</svg></body></html>
